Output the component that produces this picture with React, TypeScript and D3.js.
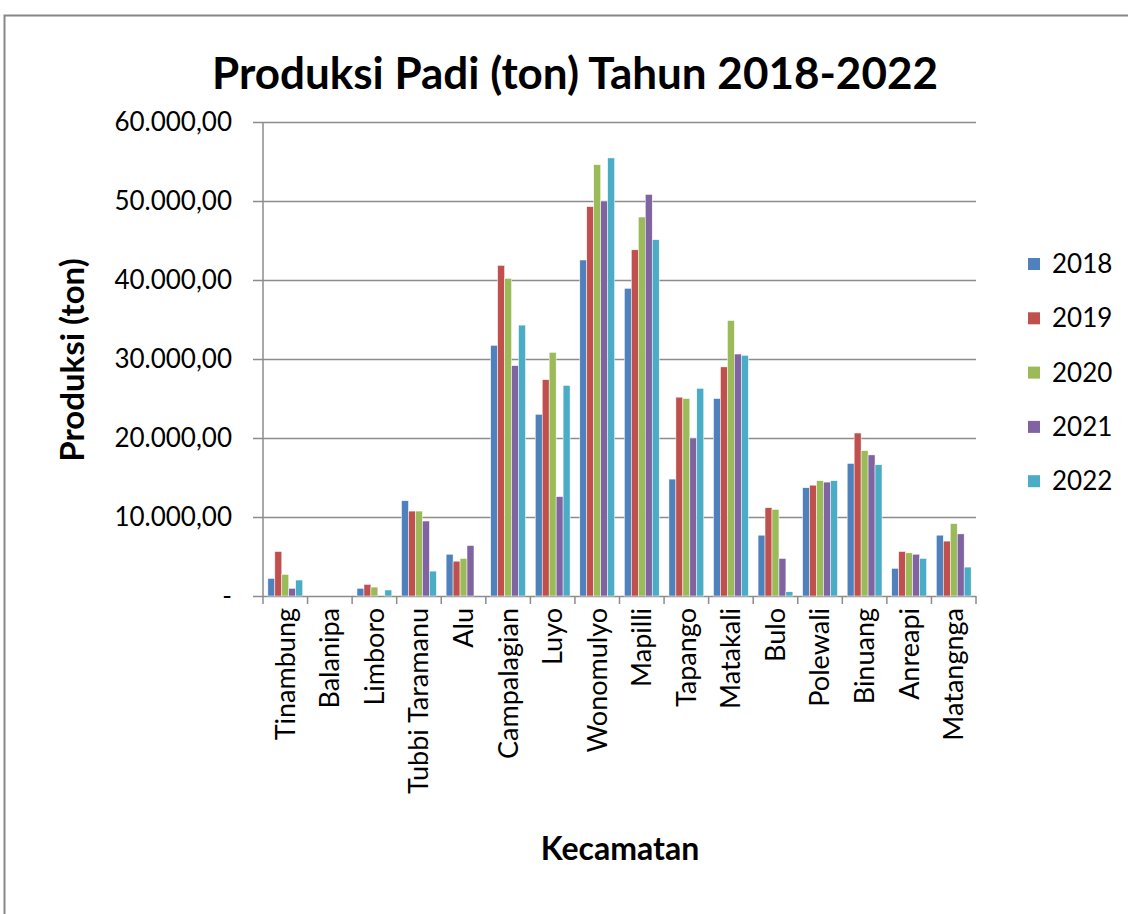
import React from "react";
import * as d3 from "d3";

const categories = ["Tinambung","Balanipa","Limboro","Tubbi Taramanu","Alu","Campalagian","Luyo","Wonomulyo","Mapilli","Tapango","Matakali","Bulo","Polewali","Binuang","Anreapi","Matangnga"];
const years = ["2018","2019","2020","2021","2022"];
const s2018 = [2230,0,970,12060,5290,31730,23000,42530,38950,14800,25000,7700,13700,16780,3500,7700];
const s2019 = [5630,0,1470,10750,4410,41850,27380,49290,43820,25170,29000,11170,14030,20630,5630,6950];
const s2020 = [2730,0,1130,10750,4750,40210,30840,54590,47970,25000,34870,10960,14590,18400,5460,9160];
const s2021 = [970,0,0,9490,6390,29160,12580,50000,50840,20000,30630,4750,14420,17860,5290,7860];
const s2022 = [2020,0,760,3150,0,34290,26660,55450,45100,26290,30470,540,14590,16610,4750,3660];
const yTicks = [0,10000,20000,30000,40000,50000,60000];
const colors = ["#4F81BD","#C0504D","#9BBB59","#8064A2","#4BACC6"];

const series = [s2018,s2019,s2020,s2021,s2022];
const font = "Lato, 'Open Sans', sans-serif";

function fmt(v: number) {
  if (v === 0) return "-";
  return d3.format(",.2f")(v).replace(/,/g, "#").replace(/\./g, ",").replace(/#/g, ".");
}

export default function App() {
  const W = 1128, H = 914;
  const left = 263, right = 976, top = 122, bottom = 596;
  const x = d3.scaleBand<string>().domain(categories).range([left, right]).paddingInner(0).paddingOuter(0);
  const inner = d3.scaleBand<string>().domain(years).range([0, x.bandwidth()]).paddingOuter(0.7).paddingInner(0);
  const y = d3.scaleLinear().domain([0, 60000]).range([bottom, top]);
  return (
    <svg width={W} height={H} style={{ position: "absolute", left: 0, top: 0, background: "#fff" }}>
      <rect x={4.5} y={15.5} width={1200} height={1000} fill="#fff" stroke="#888" strokeWidth={2} />
      <text x={575} y={89} textAnchor="middle" fontFamily={font} fontWeight="bold" fontSize={44} fill="#000">Produksi Padi (ton) Tahun 2018-2022</text>
      {yTicks.map(t => (
        <g key={t}>
          <line x1={253} x2={right} y1={Math.round(y(t)) + 0.5} y2={Math.round(y(t)) + 0.5} stroke="#8c8c8c" strokeWidth={1.5} />
          <text x={232} y={y(t)} dy="0.35em" textAnchor="end" fontFamily={font} fontSize={26} fill="#000">{fmt(t)}</text>
        </g>
      ))}
      <line x1={left} x2={left} y1={top} y2={bottom} stroke="#8c8c8c" strokeWidth={1.5} />
      {d3.range(categories.length + 1).map(i => {
        const xx = left + i * x.step();
        return <line key={i} x1={xx} x2={xx} y1={bottom} y2={bottom + 8} stroke="#8c8c8c" strokeWidth={1.5} />;
      })}
      {categories.map((c, ci) => (
        <g key={c}>
          {series.map((s, si) => {
            const v = s[ci];
            if (v <= 0) return null;
            const bx = (x(c) as number) + (inner(years[si]) as number);
            return <rect key={si} x={bx} y={y(v)} width={inner.bandwidth()} height={bottom - y(v)} fill={colors[si]} stroke="#fff" strokeWidth={0.5} />;
          })}
          <text transform={`translate(${(x(c) as number) + x.bandwidth() / 2},${bottom + 12}) rotate(-90)`} dy="0.35em" textAnchor="end" fontFamily={font} fontSize={27} fill="#000">{c}</text>
        </g>
      ))}
      <text transform={`translate(72,360) rotate(-90)`} dy="0.35em" textAnchor="middle" fontFamily={font} fontWeight="bold" fontSize={33} fill="#000">Produksi (ton)</text>
      <text x={620} y={860} textAnchor="middle" fontFamily={font} fontWeight="bold" fontSize={32} fill="#000">Kecamatan</text>
      {years.map((yr, i) => (
        <g key={yr}>
          <rect x={1028} y={258 + i * 54.3} width={12} height={12} fill={colors[i]} />
          <text x={1052} y={264 + i * 54.3} dy="0.35em" fontFamily={font} fontSize={26} fill="#000">{yr}</text>
        </g>
      ))}
    </svg>
  );
}
